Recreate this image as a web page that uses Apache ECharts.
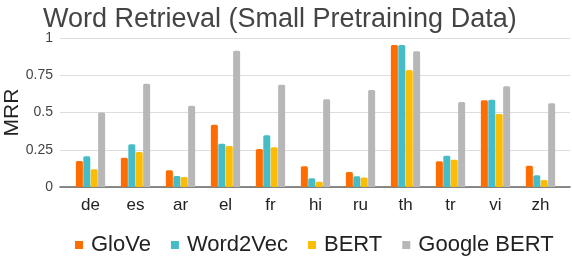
<!DOCTYPE html>
<html>
<head>
<meta charset="utf-8">
<script src="https://cdn.jsdelivr.net/npm/echarts@6/dist/echarts.min.js"></script>
<style>html,body{margin:0;padding:0;background:#fff;}#c{width:572px;height:256px;}</style>
</head>
<body>
<div id="c"></div>
<script>
const categories = ['de','es','ar','el','fr','hi','ru','th','tr','vi','zh'];
const glove = [0.174,0.197,0.112,0.418,0.255,0.139,0.101,0.953,0.172,0.582,0.143];
const word2vec = [0.206,0.287,0.074,0.291,0.347,0.058,0.072,0.953,0.210,0.586,0.079];
const bert = [0.119,0.235,0.067,0.275,0.266,0.036,0.063,0.785,0.183,0.490,0.047];
const googleBert = [0.500,0.693,0.546,0.915,0.687,0.589,0.651,0.911,0.570,0.676,0.562];
const yTicks = [0, 0.25, 0.5, 0.75, 1];
const seriesNames = ['GloVe','Word2Vec','BERT','Google BERT'];
const colors = ['#ff6d01','#46bdc6','#fbbc04','#b7b7b7'];

const chart = echarts.init(document.getElementById('c'), null, {renderer:'canvas'});
const font = 'Liberation Sans, Arial, sans-serif';
const mk = (name, data, i) => ({
  name, type:'bar', data, xAxisIndex:1, yAxisIndex:1,
  barWidth:7, barGap:'6%',
  itemStyle:{color:colors[i], borderRadius:[1.5,1.5,0,0]}
});
chart.setOption({
  animation:false,
  color:colors,
  title:{text:'Word Retrieval (Small Pretraining Data)', left:38, top:1,
    textStyle:{fontFamily:font, fontSize:27, fontWeight:'normal', color:'#444'}},
  legend:{left:70, top:229, itemWidth:8, itemHeight:8, itemGap:20, icon:'rect',
    data:seriesNames,
    textStyle:{fontFamily:font, fontSize:22, color:'#222', padding:[0,0,0,3]}},
  grid:[
    {left:60, right:2, top:38, bottom:69, outerBoundsMode:'none', containLabel:false},
    {left:68, right:9, top:38, bottom:69, outerBoundsMode:'none', containLabel:false}
  ],
  xAxis:[
    {type:'category', gridIndex:0, data:categories, axisLabel:{show:false}, axisTick:{show:false},
      axisLine:{show:true, lineStyle:{color:'#666', width:1.5}}},
    {type:'category', gridIndex:1, data:categories, axisTick:{show:false}, axisLine:{show:false},
      axisLabel:{fontFamily:font, fontSize:17, color:'#222', margin:10}}
  ],
  yAxis:[
    {type:'value', gridIndex:0, min:0, max:1, interval:0.25,
      name:'MRR', nameLocation:'middle', nameGap:37, nameRotate:90, nameMoveOverlap:false,
      nameTextStyle:{fontFamily:font, fontSize:21, color:'#222'},
      axisLabel:{fontFamily:font, fontSize:14, color:'#444', margin:7,
        formatter:v => String(yTicks.find(t => Math.abs(t - v) < 1e-9) ?? v)},
      axisLine:{show:false}, axisTick:{show:false},
      splitLine:{lineStyle:{color:'#dddddd', width:1}}},
    {type:'value', gridIndex:1, min:0, max:1, interval:0.25, show:false, splitLine:{show:false}}
  ],
  series:[
    mk(seriesNames[0], glove, 0),
    mk(seriesNames[1], word2vec, 1),
    mk(seriesNames[2], bert, 2),
    mk(seriesNames[3], googleBert, 3)
  ]
});
</script>
</body>
</html>
